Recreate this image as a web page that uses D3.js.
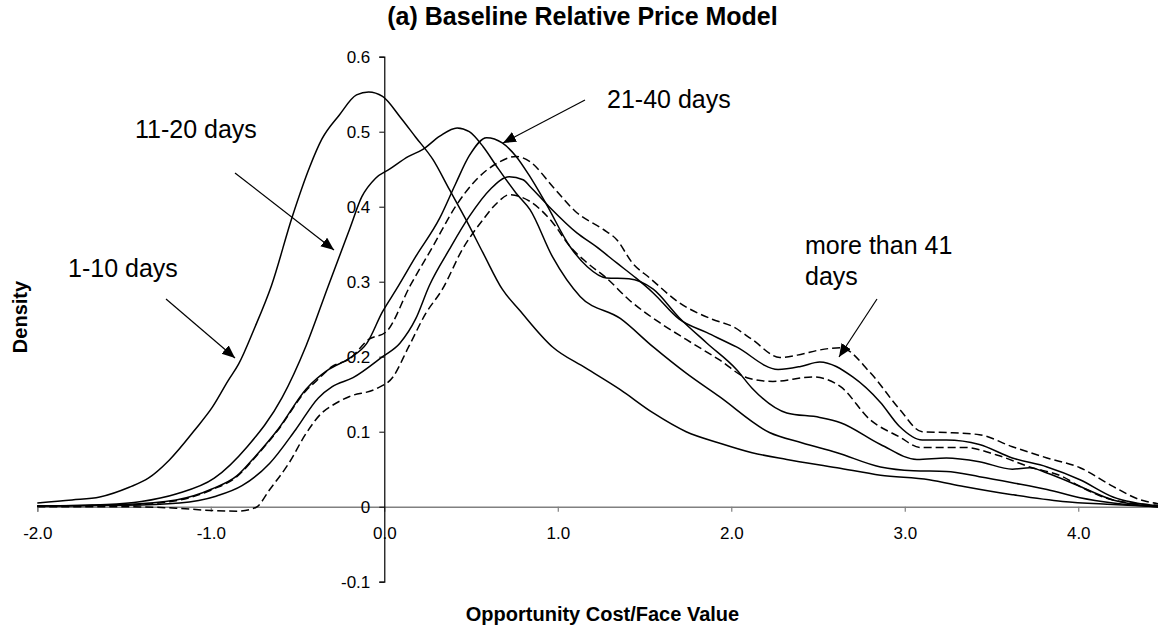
<!DOCTYPE html>
<html>
<head>
<meta charset="utf-8">
<script src="https://cdn.jsdelivr.net/npm/d3@7"></script>
<style>
  body { margin: 0; background: #fff; }
  svg { display: block; font-family: "Liberation Sans", Arial, sans-serif; }
</style>
</head>
<body>
<svg id="chart" width="1158" height="631"></svg>
<script>
// tick values
const xTicks = [-2, -1, 0, 1, 2, 3, 4];
const yTicks = [-0.1, 0, 0.1, 0.2, 0.3, 0.4, 0.5, 0.6];

// density curves, [opportunity cost / face value, density]
const days1to10 = [[-2.0,0.005],[-1.8,0.009],[-1.64,0.013],[-1.47,0.026],[-1.36,0.038],[-1.24,0.062],[-1.09,0.103],[-0.99,0.133],[-0.9,0.168],[-0.84,0.19],[-0.75,0.237],[-0.65,0.295],[-0.53,0.387],[-0.43,0.453],[-0.36,0.49],[-0.26,0.522],[-0.16,0.549],[-0.09,0.553],[-0.01,0.547],[0.09,0.52],[0.18,0.493],[0.28,0.463],[0.375,0.423],[0.47,0.383],[0.57,0.338],[0.68,0.29],[0.78,0.262],[0.97,0.213],[1.16,0.185],[1.36,0.156],[1.55,0.125],[1.74,0.10],[1.93,0.085],[2.12,0.072],[2.32,0.063],[2.61,0.052],[2.86,0.042],[3.14,0.036],[3.34,0.027],[3.62,0.016],[3.91,0.007],[4.2,0.003],[4.46,0.0]];
const days11to20 = [[-2.0,0.001],[-1.6,0.003],[-1.4,0.007],[-1.2,0.017],[-0.98,0.038],[-0.79,0.08],[-0.59,0.145],[-0.45,0.215],[-0.325,0.293],[-0.2,0.37],[-0.13,0.413],[-0.05,0.438],[0.03,0.45],[0.14,0.467],[0.22,0.476],[0.32,0.494],[0.42,0.505],[0.49,0.50],[0.57,0.48],[0.65,0.453],[0.76,0.418],[0.84,0.396],[0.97,0.333],[1.13,0.28],[1.36,0.251],[1.55,0.213],[1.74,0.178],[1.93,0.147],[2.22,0.099],[2.41,0.085],[2.61,0.072],[2.86,0.053],[3.05,0.048],[3.24,0.047],[3.43,0.04],[3.62,0.032],[3.82,0.023],[4.01,0.012],[4.2,0.005],[4.46,0.0]];
const days21to40 = [[-2.0,0.001],[-1.5,0.003],[-1.2,0.009],[-0.99,0.024],[-0.85,0.041],[-0.74,0.068],[-0.61,0.104],[-0.45,0.157],[-0.32,0.183],[-0.2,0.198],[-0.1,0.218],[-0.01,0.26],[0.07,0.29],[0.18,0.333],[0.32,0.385],[0.41,0.43],[0.49,0.468],[0.59,0.492],[0.68,0.485],[0.76,0.467],[0.84,0.44],[0.93,0.405],[1.07,0.347],[1.17,0.32],[1.28,0.305],[1.41,0.304],[1.55,0.29],[1.70,0.252],[1.86,0.218],[2.03,0.183],[2.12,0.158],[2.32,0.125],[2.51,0.119],[2.63,0.112],[2.86,0.083],[3.07,0.063],[3.24,0.065],[3.43,0.06],[3.62,0.05],[3.72,0.052],[3.82,0.045],[4.01,0.027],[4.2,0.009],[4.46,0.0]];
const daysOver41 = [[-2.0,0.001],[-1.5,0.002],[-1.2,0.008],[-0.99,0.023],[-0.85,0.04],[-0.74,0.067],[-0.61,0.103],[-0.45,0.155],[-0.39,0.168],[-0.30,0.187],[-0.2,0.197],[-0.09,0.223],[0.01,0.233],[0.15,0.295],[0.28,0.347],[0.41,0.40],[0.53,0.436],[0.65,0.458],[0.76,0.467],[0.84,0.46],[0.97,0.427],[1.11,0.392],[1.26,0.37],[1.34,0.356],[1.43,0.325],[1.53,0.305],[1.70,0.272],[1.89,0.25],[2.01,0.24],[2.12,0.223],[2.28,0.199],[2.40,0.203],[2.51,0.209],[2.63,0.212],[2.80,0.179],[2.97,0.13],[3.10,0.10],[3.24,0.099],[3.43,0.096],[3.62,0.08],[3.82,0.065],[4.01,0.052],[4.2,0.027],[4.36,0.009],[4.46,0.004]];
const otherSolid = [[-2.0,0.001],[-1.5,0.002],[-1.18,0.005],[-0.97,0.014],[-0.82,0.028],[-0.66,0.058],[-0.51,0.103],[-0.38,0.145],[-0.30,0.16],[-0.18,0.172],[-0.01,0.2],[0.09,0.218],[0.18,0.25],[0.26,0.295],[0.375,0.343],[0.49,0.387],[0.61,0.423],[0.72,0.44],[0.80,0.436],[0.84,0.427],[0.95,0.40],[1.11,0.365],[1.22,0.347],[1.34,0.325],[1.45,0.305],[1.55,0.285],[1.70,0.25],[1.86,0.232],[2.03,0.213],[2.27,0.183],[2.40,0.187],[2.51,0.193],[2.70,0.173],[2.86,0.139],[2.97,0.107],[3.10,0.089],[3.24,0.089],[3.43,0.083],[3.62,0.065],[3.82,0.053],[4.01,0.036],[4.2,0.013],[4.46,0.001]];
const otherDashed = [[-2.0,0.0],[-1.5,0.0],[-1.2,-0.002],[-1.0,-0.005],[-0.85,-0.006],[-0.74,-0.001],[-0.66,0.023],[-0.55,0.058],[-0.45,0.098],[-0.36,0.125],[-0.30,0.135],[-0.2,0.147],[-0.05,0.157],[0.05,0.173],[0.14,0.213],[0.24,0.258],[0.335,0.29],[0.45,0.343],[0.57,0.383],[0.65,0.405],[0.72,0.416],[0.84,0.407],[0.97,0.379],[1.07,0.347],[1.17,0.325],[1.28,0.305],[1.41,0.276],[1.59,0.245],[1.74,0.223],[1.93,0.196],[2.09,0.172],[2.24,0.167],[2.47,0.173],[2.63,0.16],[2.80,0.116],[2.97,0.093],[3.09,0.079],[3.34,0.079],[3.53,0.069],[3.72,0.053],[3.91,0.04],[4.01,0.027],[4.2,0.009],[4.46,0.002]];

const seriesList = [
  { values: days1to10, dashed: false },
  { values: days11to20, dashed: false },
  { values: days21to40, dashed: false },
  { values: otherSolid, dashed: false },
  { values: daysOver41, dashed: true },
  { values: otherDashed, dashed: true }
];

// annotation labels with arrows (pixel layout)
const notes = [
  { lines: ["11-20 days"], tx: 135, ty: 138, from: [235, 173], to: [334, 250] },
  { lines: ["1-10 days"], tx: 68, ty: 277, from: [166, 299], to: [235, 358] },
  { lines: ["21-40 days"], tx: 607, ty: 108, from: [585, 100], to: [503, 143] },
  { lines: ["more than 41", "days"], tx: 805, ty: 254, from: [877, 299], to: [839, 357] }
];

const svg = d3.select("#chart");

const x = d3.scaleLinear().domain([-2, 4.5]).range([37.3, 1165]);
const y = d3.scaleLinear().domain([-0.1, 0.6]).range([581.7, 56.7]);

// arrow head
svg.append("defs").append("marker")
  .attr("id", "head")
  .attr("markerUnits", "userSpaceOnUse")
  .attr("markerWidth", 14).attr("markerHeight", 12)
  .attr("refX", 13).attr("refY", 5.5)
  .attr("orient", "auto")
  .append("path").attr("d", "M0,0 L13,5.5 L0,11 Z").attr("fill", "#000");

// x axis (grey, at y = 0)
const xAxis = svg.append("g")
  .attr("transform", `translate(0,${y(0)})`)
  .call(d3.axisBottom(x).tickValues(xTicks).tickSizeOuter(0).tickSize(5).tickPadding(15)
    .tickFormat(d => d.toFixed(1)));
xAxis.select(".domain").attr("stroke", "#808080").attr("stroke-width", 1.5);
xAxis.selectAll(".tick line").attr("stroke", "#808080").attr("stroke-width", 1.2);
xAxis.selectAll("text").attr("fill", "#000").style("font-size", "17px")
  .style("font-family", "Liberation Sans, Arial, sans-serif");

// y axis
const yAxis = svg.append("g")
  .attr("transform", `translate(${x(0)},0)`)
  .call(d3.axisLeft(y).tickValues(yTicks).tickSizeOuter(0).tickSize(5).tickPadding(9)
    .tickFormat(d => Math.abs(d) < 1e-9 ? "0" : d.toFixed(1)));
yAxis.select(".domain").attr("stroke", "#000").attr("stroke-width", 1.2);
yAxis.selectAll(".tick line").attr("stroke", "#000");
yAxis.selectAll("text").attr("fill", "#000").style("font-size", "17px")
  .style("font-family", "Liberation Sans, Arial, sans-serif");

// curves
const line = d3.line()
  .x(d => x(d[0]))
  .y(d => y(d[1]))
  .curve(d3.curveMonotoneX);

svg.append("g").selectAll("path")
  .data(seriesList)
  .join("path")
  .attr("d", d => line(d.values))
  .attr("fill", "none")
  .attr("stroke", "#000")
  .attr("stroke-width", 1.5)
  .attr("stroke-dasharray", d => d.dashed ? "8,4" : null);

// annotations
const ann = svg.append("g");
notes.forEach(n => {
  ann.append("line")
    .attr("x1", n.from[0]).attr("y1", n.from[1])
    .attr("x2", n.to[0]).attr("y2", n.to[1])
    .attr("stroke", "#000").attr("stroke-width", 1.2)
    .attr("marker-end", "url(#head)");
  const t = ann.append("text")
    .attr("x", n.tx).attr("y", n.ty)
    .style("font-size", "25px");
  n.lines.forEach((s, i) => {
    t.append("tspan").attr("x", n.tx).attr("dy", i === 0 ? 0 : 31).text(s);
  });
});

// titles
svg.append("text")
  .attr("x", 582.5).attr("y", 25)
  .attr("text-anchor", "middle")
  .style("font-size", "25px").style("font-weight", "bold")
  .text("(a) Baseline Relative Price Model");

svg.append("text")
  .attr("x", 602.5).attr("y", 621)
  .attr("text-anchor", "middle")
  .style("font-size", "20px").style("font-weight", "bold")
  .text("Opportunity Cost/Face Value");

svg.append("text")
  .attr("transform", "translate(27,317) rotate(-90)")
  .attr("text-anchor", "middle")
  .style("font-size", "20px").style("font-weight", "bold")
  .text("Density");
</script>
</body>
</html>
